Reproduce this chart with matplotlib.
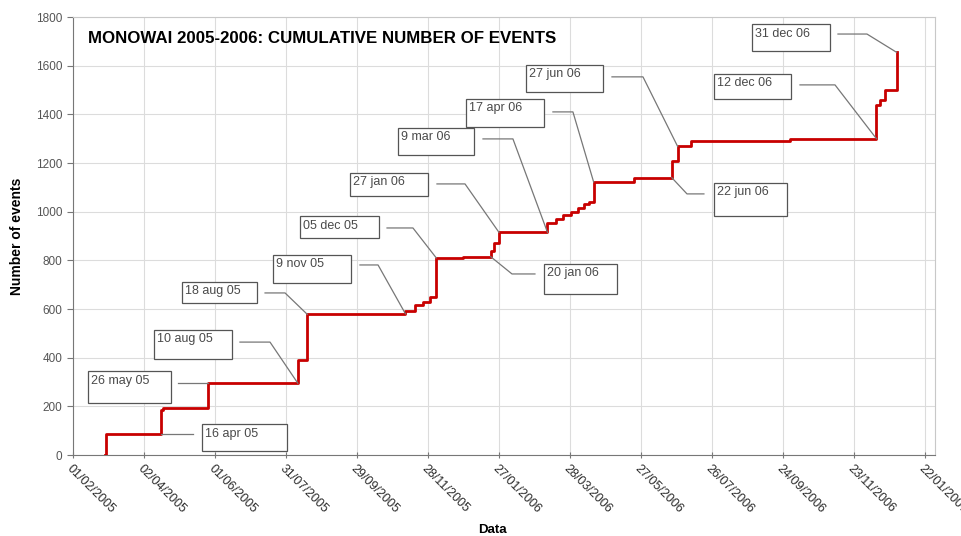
import matplotlib
matplotlib.use("Agg")
import matplotlib.pyplot as plt
import matplotlib.dates as mdates
from matplotlib.patches import Rectangle
import pandas as pd

plt.rcParams['font.family'] = ['Liberation Sans', 'DejaVu Sans']

# cumulative number of events (step goes up on each date)
event_dates = ['2005-02-28', '2005-03-01', '2005-04-16', '2005-04-18', '2005-05-26',
               '2005-08-10', '2005-08-18', '2005-10-05', '2005-11-09', '2005-11-17',
               '2005-11-24', '2005-11-30', '2005-12-05', '2005-12-28', '2006-01-20',
               '2006-01-23', '2006-01-27', '2006-03-09', '2006-03-16', '2006-03-22',
               '2006-03-29', '2006-04-04', '2006-04-09', '2006-04-13', '2006-04-17',
               '2006-05-21', '2006-06-22', '2006-06-27', '2006-07-08', '2006-09-30',
               '2006-12-12', '2006-12-15', '2006-12-19', '2006-12-29']
cum_events = [0, 85, 185, 195, 295,
              390, 578, 580, 590, 616,
              630, 648, 810, 815, 840,
              870, 915, 955, 968, 985,
              1000, 1015, 1030, 1040, 1122,
              1140, 1210, 1268, 1292, 1300,
              1440, 1460, 1500, 1655]

tick_dates = pd.date_range('2005-02-01', periods=13, freq='60D')
y_ticks = list(range(0, 1801, 200))

# callouts: label, event date, side of the step,
# box (day0, day1, v_top, v_bot), leader start day, elbow day, leader level
callouts = [
    ('16 apr 05', '2005-04-16', 'before', (109, 181, 127, 16), 101, None, None),
    ('26 may 05', '2005-05-26', 'after', (12.7, 82.8, 345, 214), 88.7, None, None),
    ('10 aug 05', '2005-08-10', 'before', (68.5, 134.4, 514, 395), 141.1, 166.5, 464),
    ('18 aug 05', '2005-08-18', 'after', (92.1, 155.5, 711, 625), 162.3, 179.2, 666),
    ('9 nov 05', '2005-11-09', 'before', (169.0, 234.9, 822, 707), 242.5, 257.8, 781),
    ('05 dec 05', '2005-12-05', 'after', (191.8, 258.6, 982, 892), 265.4, 287.3, 933),
    ('27 jan 06', '2006-01-27', 'after', (234.1, 300.0, 1159, 1064), 307.6, 331.3, 1114),
    ('9 mar 06', '2006-03-09', 'before', (274.7, 338.9, 1344, 1233), 346.5, 371.8, 1299),
    ('17 apr 06', '2006-04-17', 'after', (332.1, 398.0, 1463, 1348), 405.6, 422.5, 1410),
    ('20 jan 06', '2006-01-20', 'before', (398.0, 459.7, 785, 662), 390.4, 371.0, 744),
    ('27 jun 06', '2006-06-27', 'after', (382.8, 447.9, 1603, 1492), 455.5, 481.7, 1554),
    ('22 jun 06', '2006-06-22', 'before', (541.7, 603.4, 1118, 982), 533.2, 518.9, 1073),
    ('12 dec 06', '2006-12-12', 'before', (541.7, 606.8, 1566, 1463), 614.4, 644.0, 1521),
    ('31 dec 06', '2006-12-29', 'after', (573.8, 639.7, 1771, 1660), 646.5, 671.0, 1730),
]

fig = plt.figure(figsize=(9.61, 5.36), dpi=100)
ax = fig.add_axes([73 / 961, 1 - 455 / 536, 862 / 961, 438 / 536])

x = pd.to_datetime(event_dates)
ax.step(x, cum_events, where='post', color='#c80000', lw=2.0, zorder=4)

base = mdates.date2num(pd.Timestamp('2005-02-01'))
ax.set_xlim(base, base + 728.5)
ax.set_ylim(0, 1800)
ax.set_xticks(tick_dates)
ax.set_xticklabels([d.strftime('%d/%m/%Y') for d in tick_dates],
                   rotation=-45, ha='left', va='top', rotation_mode='anchor',
                   fontsize=9, color='#2a2a2a')
ax.set_yticks(y_ticks)
ax.tick_params(axis='y', labelsize=8.5, labelcolor='#555555', color='#777777', length=4)
ax.tick_params(axis='x', color='#777777', length=4, direction='inout')
ax.grid(True, color='#dcdcdc', lw=0.8)
ax.set_axisbelow(True)
for s in ['top', 'right']:
    ax.spines[s].set_color('#c8c8c8')
for s in ['left', 'bottom']:
    ax.spines[s].set_color('#777777')

ax.set_xlabel('Data', fontsize=9.5, fontweight='bold')
ax.xaxis.set_label_coords((492 - 73) / 862, (455 - 524) / 438)
ax.set_ylabel('Number of events', fontsize=10, fontweight='bold')
ax.yaxis.set_label_coords((24 - 73) / 862, 0.5)

ax.text(0.017, 0.952, 'MONOWAI 2005-2006: CUMULATIVE NUMBER OF EVENTS',
        transform=ax.transAxes, fontsize=12.2, fontweight='bold', va='center', ha='left')

for label, day, side, box, d_start, d_elbow, lv in callouts:
    i = event_dates.index(day)
    tx = mdates.date2num(pd.Timestamp(day))
    ty = cum_events[i] if side == 'after' else cum_events[i - 1]
    d0, d1, vt, vb = box
    ax.add_patch(Rectangle((base + d0, vb), d1 - d0, vt - vb, facecolor='white',
                           edgecolor='#555555', lw=0.9, zorder=5))
    ax.annotate(label, xy=(base + d0, vt), xytext=(2, -2.5), textcoords='offset points',
                ha='left', va='top', fontsize=9, color='#4a4a4a', zorder=6)
    if d_elbow is None:
        xs = [base + d_start, tx]
        ys = [ty, ty]
    else:
        xs = [base + d_start, base + d_elbow, tx]
        ys = [lv, lv, ty]
    ax.plot(xs, ys, color='#777777', lw=0.9, zorder=5)

fig.savefig('out.png', dpi=100)
